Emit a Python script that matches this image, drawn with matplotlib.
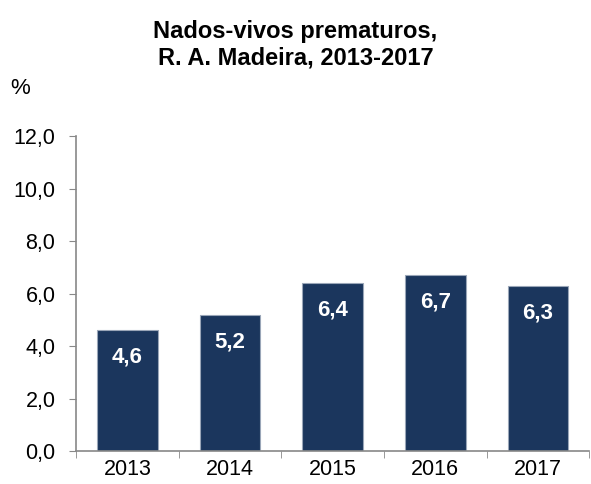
import matplotlib.pyplot as plt
import numpy as np

anos = ['2013', '2014', '2015', '2016', '2017']
valores = [4.6, 5.2, 6.4, 6.7, 6.3]

plt.rcParams['font.family'] = ['Liberation Sans', 'DejaVu Sans']

fig = plt.figure(figsize=(5.91, 4.84), dpi=100)
ax = fig.add_axes([0.129, 0.068, 0.868, 0.651])

x = np.arange(len(anos))
ax.bar(x, valores, width=0.59, color='#1b365d', edgecolor='#9aa6b8',
       linewidth=0.8, zorder=2)

# rótulos dentro das barras, perto do topo
for xi, v in zip(x, valores):
    ax.annotate(f'{v:.1f}'.replace('.', ','), (xi, v), xytext=(0, -19.5),
                textcoords='offset points', ha='center', va='center',
                color='white', fontsize=16, fontweight='bold')

ax.set_xlim(-0.5, len(anos) - 0.5)
ax.set_ylim(0, 12)
yt = np.arange(0, 12.1, 2)
ax.set_yticks(yt)
ax.set_yticklabels([f'{t:.1f}'.replace('.', ',') for t in yt])
ax.set_xticks(x)
ax.set_xticklabels(anos)
ax.set_xticks(np.arange(-0.5, len(anos)), minor=True)
ax.tick_params(axis='x', which='major', length=0, pad=6, labelsize=15.5)
ax.tick_params(axis='x', which='minor', length=5, color='#888888', direction='out')
ax.tick_params(axis='y', length=5, color='#888888', labelsize=15.5, pad=10)

for s in ['top', 'right']:
    ax.spines[s].set_visible(False)
for s in ['left', 'bottom']:
    ax.spines[s].set_color('#888888')
    ax.spines[s].set_linewidth(1.2)

fig.text(0.5, 0.907, 'Nados-vivos prematuros,\nR. A. Madeira, 2013-2017', ha='center', va='center',
         fontsize=17, fontweight='bold', linespacing=1.2)
fig.text(0.017, 0.818, '%', fontsize=16, ha='left', va='center')

fig.savefig('out.png', dpi=100)
